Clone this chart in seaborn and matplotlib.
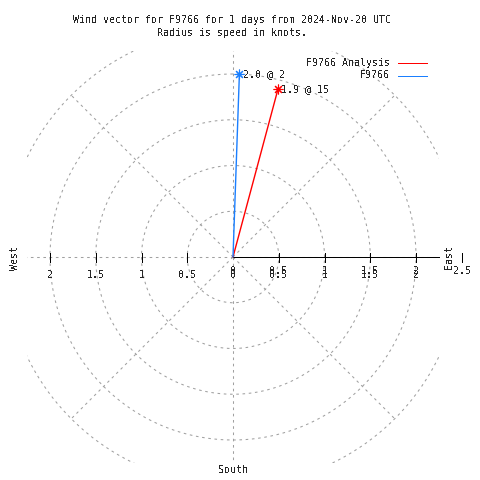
import numpy as np
import pandas as pd
import seaborn as sns
import matplotlib.pyplot as plt
from matplotlib.patches import Rectangle

# Wind vectors (direction in degrees clockwise from north, speed in knots)
stations = ['F9766 Analysis', 'F9766']
speeds = [1.9, 2.0]
directions = [15, 2]
colors = ['#ff0000', '#1a7fff']

r_ticks = [0, 0.5, 1, 1.5, 2]
x_ticks = [0, 0.5, 1, 1.5, 2, 2.5]
grid_radii = [0.5, 1, 1.5, 2, 2.5]
grid_angles = [0, 45, 90, 135, 180, 225, 270, 315]
title_lines = ['Wind vector for F9766 for 1 days from 2024-Nov-20 UTC',
               'Radius is speed in knots.']

sns.set_style('white')
plt.rcParams['font.family'] = ['DejaVu Sans Mono']
plt.rcParams['text.antialiased'] = False
FS = 7.2
LW = 0.6

# reference layout: centre at pixel (233, 257), 91.5 px per knot
px = 91.5
cx, cy = 233, 257


def dx(p):
    return (p - cx) / px


def dy(p):
    return (cy - p) / px


fig = plt.figure(figsize=(4.8, 4.8), dpi=100)
fig.patch.set_facecolor('white')
ax = fig.add_axes([0, 0, 1, 1])
ax.set_xlim(dx(0), dx(480))
ax.set_ylim(dy(480), dy(0))
ax.axis('off')

# polar grid, clipped to the square plot area
clip = Rectangle((-2.25, -2.25), 4.5, 4.5, transform=ax.transData)
grid_kw = dict(color='#a0a0a0', lw=0.75, ls=(0, (2.5, 3.5)))
theta = np.linspace(0, 2 * np.pi, 721)
for r in grid_radii:
    ln, = ax.plot(r * np.cos(theta), r * np.sin(theta), **grid_kw)
    ln.set_clip_path(clip)
for a in grid_angles:
    t = np.radians(a)
    ln, = ax.plot([0, 2.5 * np.cos(t)], [0, 2.5 * np.sin(t)], **grid_kw)
    ln.set_clip_path(clip)

# radial axis and ticks
ax.plot([0, 2.25], [0, 0], color='black', lw=LW, antialiased=False)
tk = 4.5 / px
for v in r_ticks[1:]:
    ax.plot([v, v], [-tk, tk], color='black', lw=LW, antialiased=False)
    ax.plot([-v, -v], [-tk, tk], color='black', lw=LW, antialiased=False)
ax.plot([2.5, 2.5], [-tk, tk], color='black', lw=LW, antialiased=False)

for v in x_ticks:
    ax.text(v, dy(271.5), f'{v:g}', fontsize=FS, ha='center', va='center')
for v in r_ticks:
    ax.text(v, dy(275), f'{v:g}', fontsize=FS, ha='center', va='center')
    ax.text(-v, dy(275), f'{v:g}', fontsize=FS, ha='center', va='center')

# wind vectors
rad = np.radians(directions)
tip_x = np.array(speeds) * np.sin(rad)
tip_y = np.array(speeds) * np.cos(rad)
df = pd.DataFrame({
    'station': np.repeat(stations, 2),
    'x': np.ravel(np.column_stack([np.zeros(len(stations)), tip_x])),
    'y': np.ravel(np.column_stack([np.zeros(len(stations)), tip_y])),
})
pal = dict(zip(stations, colors))
sns.lineplot(data=df, x='x', y='y', hue='station', palette=pal, sort=False,
             estimator=None, legend=False, lw=1.0, ax=ax)
for name, x, y, s, d in zip(stations, tip_x, tip_y, speeds, directions):
    ax.plot([x], [y], marker=(8, 2, 0), ms=7, mew=0.8, color=pal[name])
    ax.text(x + 3.5 / px, y, f'{s:.1f} @ {d}', fontsize=FS, ha='left', va='center')

# legend
for i, name in enumerate(stations):
    yy = dy(63 + 12.5 * i)
    ax.text(dx(390), yy, name, fontsize=FS, ha='right', va='center')
    ax.plot([dx(398), dx(427)], [yy, yy], color=pal[name], lw=LW, antialiased=False)

# compass labels
ax.text(dx(15), dy(258), 'West', fontsize=FS, rotation=90, ha='center', va='center')
ax.text(dx(449), dy(257), 'East', fontsize=FS, rotation=90, ha='center', va='center')
ax.text(dx(233), dy(470), 'South', fontsize=FS, ha='center', va='center')

fig.text(232 / 480, 1 - 20 / 480, title_lines[0], fontsize=FS, ha='center', va='center')
fig.text(232 / 480, 1 - 33 / 480, title_lines[1], fontsize=FS, ha='center', va='center')

plt.savefig('out.png', dpi=100)
